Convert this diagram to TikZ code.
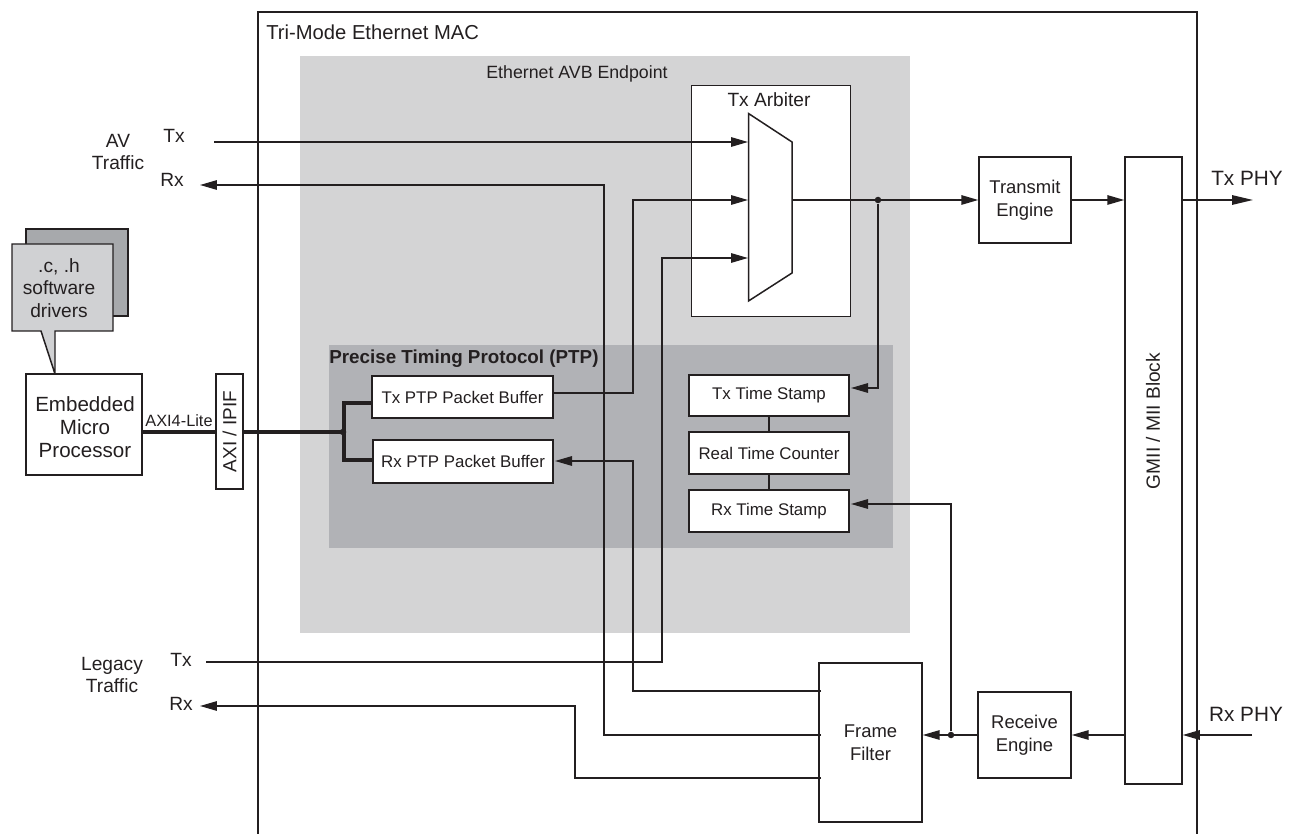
\documentclass[tikz,border=0pt]{standalone}
\usepackage{fontspec}
\setmainfont{Liberation Sans}
\usetikzlibrary{arrows.meta}
\definecolor{ink}{HTML}{231F20}
\definecolor{avbgray}{HTML}{D4D4D5}
\definecolor{ptpgray}{HTML}{B1B2B6}
\definecolor{notegray}{HTML}{D0D1D3}
\definecolor{backgray}{HTML}{A7A9AC}
\begin{document}
\begin{tikzpicture}[x=0.02cm, y=-0.02cm, line join=miter, color=ink,
    wire/.style={line width=0.85pt},
    arr/.style={wire, -{Triangle[length=0.34cm, width=0.19cm]}},
    longarr/.style={wire, -{Triangle[length=0.42cm, width=0.19cm]}},
    bus/.style={line width=1.9pt},
    block/.style={draw, fill=white, line width=0.85pt, inner sep=0pt, align=center, font=\fontsize{10.5}{13}\selectfont},
    small/.style={block, font=\fontsize{9.6}{11}\selectfont},
    lbl/.style={inner sep=0pt, align=center, font=\fontsize{10.9}{12.9}\selectfont},
    dot/.style={circle, fill=ink, inner sep=0pt, minimum size=0.13cm}]
  \useasboundingbox (0,0) rectangle (1295,834);
  % background areas
  \draw[line width=0.85pt] (258,834) -- (258,12) -- (1197,12) -- (1197,834);
  \fill[avbgray] (300,56) rectangle (910,633);
  \fill[ptpgray] (329,345) rectangle (893,548);
  \node[lbl, anchor=west, font=\fontsize{11.5}{13}\selectfont] (maclbl) at (266,32) {Tri-Mode Ethernet MAC};
  \node[lbl, font=\fontsize{10.1}{12}\selectfont] (avblbl) at (577,74) {Ethernet AVB Endpoint};
  \node[lbl, anchor=west, font=\fontsize{10.7}{12}\selectfont\bfseries] (ptplbl) at (329,359) {Precise Timing Protocol (PTP)};
  % Tx arbiter and mux
  \draw[fill=white, line width=0.5pt] (691,85) rectangle (850,316);
  \node[lbl] (arblbl) at (769,100) {Tx Arbiter};
  \draw[wire] (748.5,113.5) -- (792,142) -- (792,273) -- (748.5,301) -- cycle;
  \coordinate (muxa) at (748,142);
  \coordinate (muxb) at (748,200);
  \coordinate (muxc) at (748,258);
  \coordinate (muxout) at (792,200);
  % software drivers
  \draw[wire, fill=backgray] (26,229) rectangle (128,316);
  \draw[wire, fill=notegray] (12,244) -- (113,244) -- (113,331) -- (55,331) -- (55,374) -- (41,331) -- (12,331) -- cycle;
  \node[lbl] (drvlbl) at (59,288) {.c, .h\\software\\drivers};
  % blocks
  \node[block, minimum width=2.32cm, minimum height=2.02cm] (cpu) at (84,424.5) {};
  \node[lbl, font=\fontsize{11.7}{13}\selectfont] (cpulbl) at (85,427) {Embedded\\Micro\\Processor};
  \node[block, minimum width=2.30cm, minimum height=0.54cm, rotate=90, font=\fontsize{10.8}{13}\selectfont] (axi) at (229.5,431.5) {AXI / IPIF};
  \node[small, minimum width=3.62cm, minimum height=0.84cm] (txbuf) at (462.5,397) {Tx PTP Packet Buffer};
  \node[small, minimum width=3.60cm, minimum height=0.86cm] (rxbuf) at (463,461.5) {Rx PTP Packet Buffer};
  \node[small, minimum width=3.20cm, minimum height=0.82cm] (txstamp) at (769,395.5) {Tx Time Stamp};
  \node[small, minimum width=3.20cm, minimum height=0.84cm] (rtc) at (769,453) {Real Time Counter};
  \node[small, minimum width=3.20cm, minimum height=0.84cm] (rxstamp) at (769,511) {Rx Time Stamp};
  \node[block, minimum width=1.84cm, minimum height=1.72cm] (txeng) at (1025,200) {Transmit\\Engine};
  \node[block, minimum width=1.86cm, minimum height=1.72cm] (rxeng) at (1024.5,735) {Receive\\Engine};
  \node[block, minimum width=12.54cm, minimum height=1.14cm, rotate=90] (gmii) at (1153.5,470.5) {};
  \node[lbl, rotate=90] (gmiilbl) at (1153,421) {GMII / MII Block};
  \node[block, minimum width=2.06cm, minimum height=3.18cm] (filter) at (870.5,742.5) {Frame\\Filter};
  % outside labels
  \node[lbl] (avlbl) at (118,152) {AV\\Traffic};
  \node[lbl] (avtx) at (174,136) {Tx};
  \node[lbl] (avrx) at (172,180) {Rx};
  \node[lbl] (leglbl) at (112,675) {Legacy\\Traffic};
  \node[lbl] (legtx) at (181,660) {Tx};
  \node[lbl] (legrx) at (181,704) {Rx};
  \node[lbl, font=\fontsize{11.8}{13}\selectfont] (txphy) at (1247,178) {Tx PHY};
  \node[lbl, font=\fontsize{11.8}{13}\selectfont] (rxphy) at (1246,714) {Rx PHY};
  \node[lbl, font=\fontsize{9.3}{11}\selectfont] (axilbl) at (179,421) {AXI4-Lite};
  % free ends and ports
  \coordinate (avin) at (214,142);
  \coordinate (avout) at (200,185);
  \coordinate (legin) at (206,662);
  \coordinate (legout) at (200,706);
  \coordinate (phyout) at (1253,200);
  \coordinate (phyin) at (1252,735);
  \coordinate (ffa) at (821,691);
  \coordinate (ffb) at (821,735);
  \coordinate (ffc) at (821,778);
  \coordinate (txout) at (553,393);
  \coordinate (rxin) at (555,461);
  \coordinate (stampa) at (851,388);
  \coordinate (stampb) at (851,504);
  \coordinate (busj) at (343,432);
  \node[dot] (txdot) at (878,200) {};
  \node[dot] (rxdot) at (951,735) {};
  % connectors
  \draw[arr] (avin) -- (muxa);
  \draw[arr] (ffb) -- (604,735) |- (avout);
  \draw[arr] (legin) -- (662,662) |- (muxc);
  \draw[arr] (txout) -- (633,393) |- (muxb);
  \draw[arr] (ffa) -- (633,691) |- (rxin);
  \draw[arr] (ffc) -- (575,778) |- (legout);
  \draw[arr] (muxout) -- (txeng.west);
  \draw[arr] (txdot) |- (stampa);
  \draw[arr] (txeng.east) -- (txeng.east -| gmii.north);
  \draw[longarr] (txeng.east -| gmii.south) -- (phyout);
  \draw[arr] (phyin) -- (phyin -| gmii.south);
  \draw[arr] (rxeng.east -| gmii.north) -- (rxeng.east);
  \draw[arr] (rxeng.west) -- (rxeng.west -| filter.east);
  \draw[arr] (rxdot) |- (stampb);
  \draw[wire] (txstamp) -- (rtc);
  \draw[wire] (rtc) -- (rxstamp);
  % AXI bus
  \draw[bus] (cpu.east |- busj) -- (axi.north |- busj);
  \draw[bus] (axi.south |- busj) -- (busj);
  \draw[bus] (txbuf.west |- 344,403) -| (344,460) -- (rxbuf.west |- 344,460);
  \node[dot] (busdot) at (busj) {};
\end{tikzpicture}
\end{document}
